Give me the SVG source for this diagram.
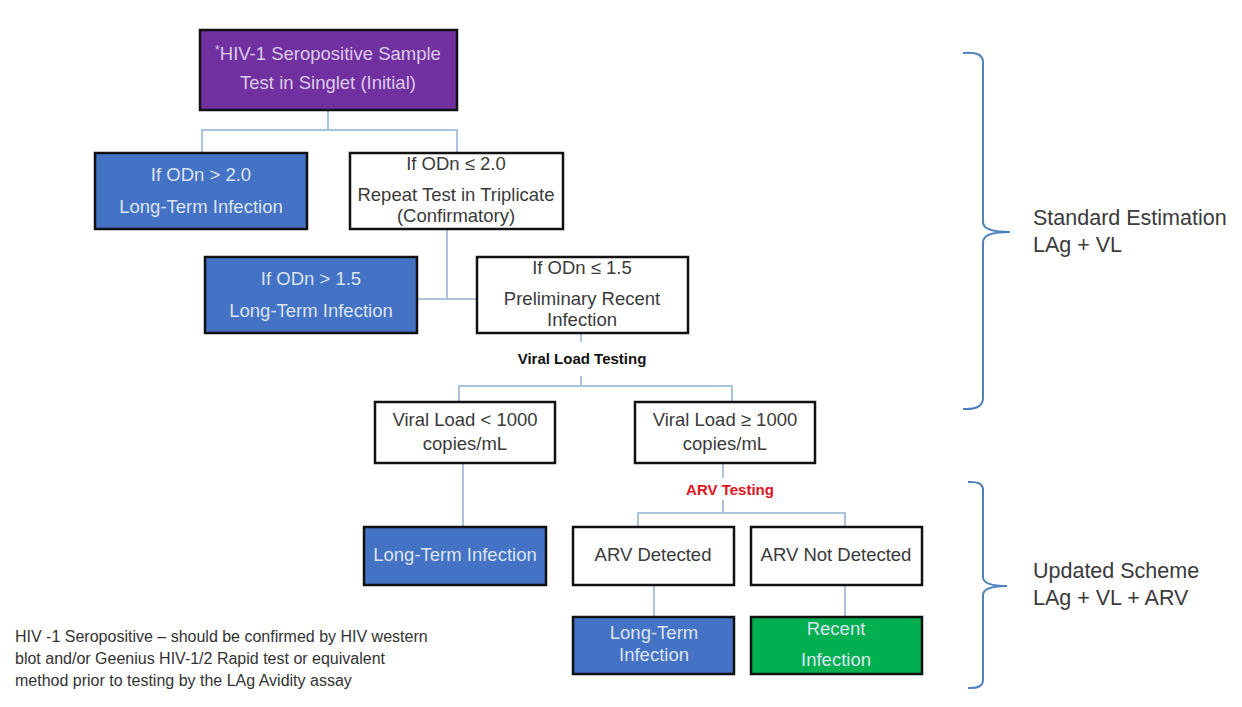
<svg xmlns="http://www.w3.org/2000/svg" width="1242" height="707" viewBox="0 0 1242 707">
<style>
.box{stroke:#111;stroke-width:2.5}
.w{fill:#fff}
.b{fill:#4472C4}
.p{fill:#7030A0}
.g{fill:#00B050}
text{font-family:"Liberation Sans",Arial,sans-serif;text-anchor:middle}
.t{font-size:18.5px}
.dk{fill:#3a3a3a}
.lt{fill:#dde4f0}
.lp{fill:#dccbe9}
.lbl{font-size:15px;font-weight:bold}
.side{font-size:21.5px;fill:#3a3a3a;text-anchor:start}
.note{font-size:16px;fill:#333;text-anchor:start}
.conn{fill:none;stroke:#a9c4dc;stroke-width:2}
.brace{fill:none;stroke:#4f81bd;stroke-width:2}
</style>
<rect width="1242" height="707" fill="#fff"/>
<g id="connectors">
<path class="conn" d="M328,110 V130 M202,153 V130 H457 V153"/>
<path class="conn" d="M447,229 V299 M417,299 H477"/>
<path class="conn" d="M581,333 V342 M581,376 V386 M459,402 V386 H732 V402"/>
<path class="conn" d="M463,463 V527"/>
<path class="conn" d="M723,463 V478 M723,500 V513 M638,527 V513 H845 V527"/>
<path class="conn" d="M654,585 V617 M845,585 V617"/>
</g>
<g id="n-start">
<rect class="box p" x="200" y="30" width="257" height="80"/>
<text class="t lp" x="328" y="60"><tspan font-size="12" dy="-6">*</tspan><tspan dy="6">HIV-1 Seropositive Sample</tspan></text>
<text class="t lp" x="328" y="89">Test in Singlet (Initial)</text>
</g>
<g id="n-lt1">
<rect class="box b" x="95" y="153" width="212" height="76"/>
<text class="t lt" x="201" y="181">If ODn &gt; 2.0</text>
<text class="t lt" x="201" y="213">Long-Term Infection</text>
</g>
<g id="n-repeat">
<rect class="box w" x="350" y="153" width="213" height="76"/>
<text class="t dk" x="456" y="170">If ODn ≤ 2.0</text>
<text class="t dk" x="456" y="201">Repeat Test in Triplicate</text>
<text class="t dk" x="456" y="222">(Confirmatory)</text>
</g>
<g id="n-lt2">
<rect class="box b" x="205" y="257" width="212" height="76"/>
<text class="t lt" x="311" y="285">If ODn &gt; 1.5</text>
<text class="t lt" x="311" y="317">Long-Term Infection</text>
</g>
<g id="n-prelim">
<rect class="box w" x="477" y="257" width="211" height="76"/>
<text class="t dk" x="582" y="274">If ODn ≤ 1.5</text>
<text class="t dk" x="582" y="305">Preliminary Recent</text>
<text class="t dk" x="582" y="326">Infection</text>
</g>
<g id="l-vl">
<text class="lbl" x="582" y="364" fill="#111">Viral Load Testing</text>
</g>
<g id="n-vllow">
<rect class="box w" x="375" y="402" width="180" height="61"/>
<text class="t dk" x="465" y="426">Viral Load &lt; 1000</text>
<text class="t dk" x="465" y="450">copies/mL</text>
</g>
<g id="n-vlhigh">
<rect class="box w" x="635" y="402" width="180" height="61"/>
<text class="t dk" x="725" y="426">Viral Load ≥ 1000</text>
<text class="t dk" x="725" y="450">copies/mL</text>
</g>
<g id="l-arv">
<text class="lbl" x="730" y="495" fill="#e0141e">ARV Testing</text>
</g>
<g id="n-lt3">
<rect class="box b" x="364" y="527" width="182" height="58"/>
<text class="t lt" x="455" y="561">Long-Term  Infection</text>
</g>
<g id="n-arvdet">
<rect class="box w" x="573" y="527" width="161" height="58"/>
<text class="t dk" x="653" y="561">ARV Detected</text>
</g>
<g id="n-arvnot">
<rect class="box w" x="751" y="527" width="171" height="58"/>
<text class="t dk" x="836" y="561">ARV Not Detected</text>
</g>
<g id="n-lt4">
<rect class="box b" x="573" y="617" width="161" height="57"/>
<text class="t lt" x="654" y="639">Long-Term</text>
<text class="t lt" x="654" y="661">Infection</text>
</g>
<g id="n-recent">
<rect class="box g" x="751" y="617" width="171" height="57"/>
<text class="t lt" x="836" y="635">Recent</text>
<text class="t lt" x="836" y="666">Infection</text>
</g>
<g id="note">
<text class="note" x="15" y="642">HIV -1 Seropositive – should be confirmed by HIV western</text>
<text class="note" x="15" y="664">blot and/or Geenius HIV-1/2 Rapid test or equivalent</text>
<text class="note" x="15" y="686">method prior to testing by the LAg Avidity assay</text>
</g>
<g id="brace-standard">
<path class="brace" d="M963,53 Q983,51 983,62 V222 Q983,232 1010,232 Q983,232 983,242 V398 Q983,410 963,409"/>
<text class="side" x="1033" y="225">Standard Estimation</text>
<text class="side" x="1033" y="252">LAg + VL</text>
</g>
<g id="brace-updated">
<path class="brace" d="M968,482 Q983,481 983,490 V577 Q983,586 1007,586 Q983,586 983,595 V680 Q983,689 968,688"/>
<text class="side" x="1033" y="578">Updated Scheme</text>
<text class="side" x="1033" y="605">LAg + VL + ARV</text>
</g>
</svg>
